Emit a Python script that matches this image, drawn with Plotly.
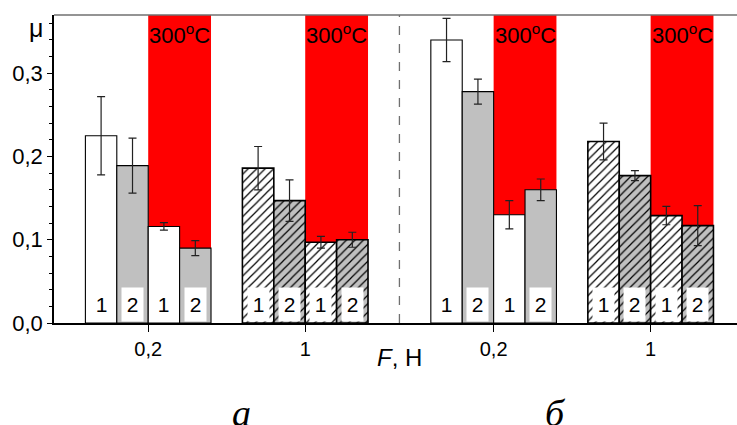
import plotly.graph_objects as go

# ---------------- data ----------------
force_labels = ["0,2", "1", "0,2", "1"]          # F, H  (panel а: first two, panel б: last two)
panel_labels = ["а", "б"]
hatched = [False, True, False, True]             # F = 1 H groups are hatched

mu_1 = [0.225, 0.186, 0.340, 0.218]              # sample 1, room temperature
mu_2 = [0.189, 0.147, 0.278, 0.177]              # sample 2, room temperature
mu_1_300 = [0.116, 0.097, 0.130, 0.129]          # sample 1, 300 °C
mu_2_300 = [0.090, 0.100, 0.160, 0.117]          # sample 2, 300 °C

err_1 = [0.047, 0.026, 0.026, 0.022]
err_2 = [0.033, 0.025, 0.015, 0.006]
err_1_300 = [0.0045, 0.007, 0.017, 0.011]
err_2_300 = [0.009, 0.009, 0.013, 0.024]

series_names = ["1", "2", "1", "2"]
temp_label = "300<sup>o</sup>C"

# ---------------- layout helpers ----------------
group_pos = [0, 5, 11, 16]
offsets = [-1.5, -0.5, 0.5, 1.5]
divider = 8
y_max = 0.37
GRAY = "#c0c0c0"
FONT = "Arial, Liberation Sans, sans-serif"

series = [
    (mu_1, err_1, "white"),
    (mu_2, err_2, GRAY),
    (mu_1_300, err_1_300, "white"),
    (mu_2_300, err_2_300, GRAY),
]

fig = go.Figure()
annotations = []
shapes = []

# red 300 °C bands behind the bars
for g in group_pos:
    shapes.append(dict(type="rect", xref="x", yref="paper",
                       x0=g, x1=g + 2, y0=0, y1=1,
                       fillcolor="#ff0000", line=dict(width=0), layer="below"))
    annotations.append(dict(xref="x", yref="paper", x=g + 1, y=1, yanchor="top",
                            yshift=-3, text=temp_label, showarrow=False,
                            font=dict(family=FONT, size=22, color="black")))

for k, (vals, errs, col) in enumerate(series):
    xs = [g + offsets[k] for g in group_pos]
    fig.add_trace(go.Bar(
        x=xs, y=vals, width=1,
        marker=dict(
            color=col,
            line=dict(color="black", width=[1.6 if h else 1.1 for h in hatched]),
            pattern=dict(shape=["/" if h else "" for h in hatched],
                         fgcolor="black", bgcolor=col,
                         size=6, solidity=0.2, fillmode="replace"),
        ),
        error_y=dict(type="data", array=errs, visible=True,
                     color="#222222", thickness=1.2, width=4),
        showlegend=False, hoverinfo="skip",
    ))
    for x in xs:
        annotations.append(dict(xref="x", yref="y", x=x, y=0, yanchor="bottom",
                                yshift=1, text=series_names[k], showarrow=False,
                                bgcolor="white", width=19, height=31,
                                font=dict(family=FONT, size=21, color="black")))

# dashed divider between panels
shapes.append(dict(type="line", xref="x", yref="paper", x0=divider, x1=divider,
                   y0=0, y1=1, line=dict(color="#707070", width=1.3, dash="dash")))
# top frame
shapes.append(dict(type="line", xref="paper", yref="paper", x0=0, x1=1,
                   y0=1, y1=1, line=dict(color="#707070", width=1.5)))

# axis / panel labels
annotations.append(dict(xref="paper", yref="paper", x=-0.04, y=0.958,
                        yanchor="middle", text="μ", showarrow=False,
                        font=dict(family=FONT, size=25, color="black")))
annotations.append(dict(xref="paper", yref="paper", x=0.506, y=0, yshift=-34,
                        yanchor="middle", text="<i>F</i>, H", showarrow=False,
                        font=dict(family=FONT, size=24, color="black")))
for lab, px in zip(panel_labels, [0.258, 0.752]):
    annotations.append(dict(xref="paper", yref="paper", x=px, y=0, yshift=-90,
                            yanchor="middle", text="<i>" + lab + "</i>",
                            showarrow=False,
                            font=dict(family="Times New Roman, Liberation Serif, serif",
                                      size=38, color="black")))

fig.update_layout(
    width=737, height=425, autosize=False,
    margin=dict(l=54, r=0, t=15, b=102),
    paper_bgcolor="white", plot_bgcolor="white",
    barmode="overlay", separators=", ",
    font=dict(family=FONT, color="black"),
    shapes=shapes, annotations=annotations,
    xaxis=dict(range=[-3, 18.75], tickmode="array", tickvals=group_pos,
               ticktext=force_labels, showgrid=False, zeroline=False,
               showline=True, linecolor="black", linewidth=2,
               ticks="outside", ticklen=7, tickwidth=1, tickcolor="black",
               tickfont=dict(family=FONT, size=20, color="black")),
    yaxis=dict(range=[0, y_max], dtick=0.1, tick0=0, tickformat=".1f",
               showgrid=False, zeroline=False, showline=True,
               linecolor="black", linewidth=1.5,
               ticks="outside", ticklen=5, tickwidth=1, tickcolor="black",
               tickfont=dict(family=FONT, size=22, color="black"),
               minor=dict(dtick=0.02, tick0=0, ticks="outside", ticklen=3,
                          tickcolor="black", showgrid=False)),
)

fig.write_html("out.html", config={"displayModeBar": False},
               post_script="document.body.style.margin='0';document.body.style.overflow='hidden';")
